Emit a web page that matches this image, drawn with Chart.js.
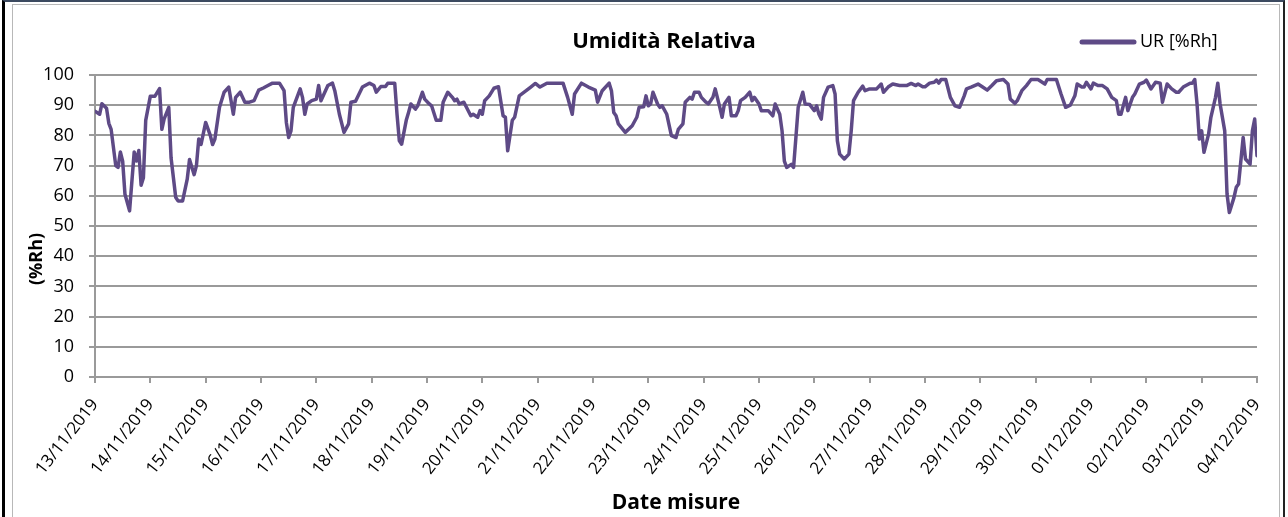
<!DOCTYPE html>
<html lang="it">
<head>
<meta charset="utf-8">
<title>Umidità Relativa</title>
<script src="https://cdn.jsdelivr.net/npm/chart.js@4.4.1/dist/chart.umd.min.js"></script>
<style>
html,body{margin:0;padding:0;background:#fff}
#wrap{position:relative;width:1288px;height:517px;overflow:hidden}
#c{position:absolute;left:0;top:0}
.cornice{position:absolute;left:2px;top:0;right:3px;bottom:-5px;border-left:3px solid #000;border-top:2px solid #3c4a60;border-right:2px solid #222;pointer-events:none}
.interno{position:absolute;left:12px;top:4px;right:8px;bottom:-5px;border:1px solid #b8b8b8;pointer-events:none}
</style>
</head>
<body>
<div id="wrap">
  <canvas id="c" width="1288" height="517"></canvas>
  <div class="interno"></div>
  <div class="cornice"></div>
</div>
<script>
// ===================== DATI =====================
const titolo='Umidità Relativa';
const nomeSerie='UR [%Rh]';
const titoloY='(%Rh)';
const titoloX='Date misure';
const etichetteDate=['13/11/2019','14/11/2019','15/11/2019','16/11/2019','17/11/2019','18/11/2019','19/11/2019','20/11/2019','21/11/2019','22/11/2019','23/11/2019','24/11/2019','25/11/2019','26/11/2019','27/11/2019','28/11/2019','29/11/2019','30/11/2019','01/12/2019','02/12/2019','03/12/2019','04/12/2019'];
const tickY=[0,10,20,30,40,50,60,70,80,90,100];

// ore trascorse dal 13/11/2019 00:00
const ore=[0,2,3,5,6,7,9,10,11,12,13,15,17,18,19,20,21,22,24,26,28,29,30,32,33,35,36,38,40,41,43,44,45,46,48,50,51,52,54,56,58,60,61,63,65,67,69,71,73,75,77,80,82,83,84,
  85,86,89,90,91,92,94,96,97,98,101,103,104,106,108,110,111,113,116,119,121,122,124,126,127,130,131,132,133,135,136,137,139,140,142,143,145,146,148,150,151,153,155,156,157,158,160,163,164,166,167,
  168,169,171,173,175,177,178,179,181,182,184,187,189,191,193,196,203,205,207,208,211,214,217,218,220,223,224,225,226,227,230,233,235,236,238,239,240,241,242,244,245,246,248,250,252,
  253,255,256,258,259,260,262,263,265,266,268,269,271,272,273,275,276,278,279,280,282,284,285,286,288,289,292,294,295,297,298,299,300,302,303,304,305,307,308,310,312,313,314,315,316,318,320,321,322,323,325,327,328,329,331,333,334,
  336,339,341,342,344,346,349,352,354,356,357,359,360,362,364,365,366,367,369,371,373,375,377,378,380,383,385,387,389,391,394,396,397,399,400,402,404,406,409,412,413,417,419,421,
  423,425,426,428,429,430,432,433,435,437,439,441,443,444,445,447,448,450,451,453,455,456,458,460,462,463,465,467,469,470,472,475,476,477,478,479,480,481,483,484,486,487,488,490,491,492,494,495,496,498,499,501,502,503,504];
const ur=[88,87,90.5,89,84,82,70,69.4,74.5,71.5,60.5,55,74.5,71.5,75,63.5,66,85,93,93,95.5,82,85.5,89.3,72.5,59.5,58.3,58.3,65.5,72,67,70,78.8,77,84.3,80,77,78.8,89.3,94.3,96,87,92.6,94.3,91,91,91.5,95,95.7,96.5,97.3,97.3,94.8,84.3,79.3,
  81.5,89.3,95.4,92.6,87,90.4,91.5,92,96.5,91.5,96.5,97.3,94.8,87,81,83.8,91,91.3,96,97.3,96.5,94.3,96.2,96.2,97.3,97.3,87,78.2,77.1,85,87.6,90.4,88.7,89.8,94.3,92,90.4,89.8,85,85,91,94.3,92.6,91.5,92,90.4,91,86.5,87,86,88.2,
  87,91.5,93.1,95.6,96.1,86.5,86,74.9,85,86,93.1,94.8,96,97.2,96,97.3,97.3,92.6,87,93.7,97.3,96,95,91,94.8,97.3,94.8,87.6,86.5,83.8,81,83.2,86,89.3,89.5,93.1,89.8,90.4,94.3,90.4,89.3,89.8,87,79.9,79.3,
  82,83.8,91,92.6,92,94.3,94.3,92.6,91,90.4,92.6,95.4,89.3,86,90.4,92.6,86.5,86.5,88.2,91.5,92.6,94.3,91.5,92.6,90.4,88.2,88.2,86.5,90.4,87,81.5,71.5,69.4,70.4,69.4,79.3,89.3,94.3,90.4,90.2,88.2,89.8,87,85.4,92.6,96,96.5,93.7,78.2,73.8,72.2,73.8,81.5,91.5,94.3,96.3,94.8,
  95.4,95.4,97,94.3,96,97,96.5,96.5,97.2,96.5,97,96.1,96.1,97.3,97.6,98.3,97.3,98.5,98.5,92.6,89.8,89.3,93.1,95.4,96,97,96,95,96.5,98.1,98.5,97,92,90.6,91.5,94.8,96.5,98.5,98.5,97,98.5,98.5,93.7,89.3,
  90,93.1,97,96,96,97.6,95.4,97.3,96.5,96.5,95.4,92.6,91.5,87,87,92.6,88.2,92.6,93.7,97,97.6,98.3,95.4,97.6,97.3,91,97,95.4,94.3,94.3,96,97.3,97.3,98.5,90.4,78.8,81.5,74.4,80.4,86,92.6,97.3,90.4,81.5,60.6,54.5,59.4,62.8,63.9,79.3,72.2,70.5,81.5,85.4,73.3];

const colSerie='#5e4a86', colGriglia='#9a9a9a';

// ===================== GRAFICO =====================
Chart.defaults.font.family='"Open Sans", sans-serif';
Chart.defaults.color='#000';

// titolo, legenda e titolo asse Y disegnati a mano (stessa riga / stessa posizione del foglio originale)
const testiExtra={id:'testiExtra',afterDraw(chart){
  const ctx=chart.ctx, a=chart.chartArea;
  ctx.save();
  ctx.fillStyle='#000';ctx.textBaseline='middle';
  ctx.font='bold 22px "Open Sans"';ctx.textAlign='center';
  ctx.fillText(titolo,(a.left+a.right)/2-12,42);
  const lx=a.right-175;
  ctx.strokeStyle=colSerie;ctx.lineWidth=5;ctx.lineCap='round';
  ctx.beginPath();ctx.moveTo(lx,42);ctx.lineTo(lx+52,42);ctx.stroke();
  ctx.font='18px "Open Sans"';ctx.textAlign='left';
  ctx.fillText(nomeSerie,lx+58,42);
  ctx.translate(37,(a.top+a.bottom)/2+33);ctx.rotate(-Math.PI/2);
  ctx.font='bold 18px "Open Sans"';ctx.textAlign='center';
  ctx.fillText(titoloY,0,0);
  ctx.restore();
}};

new Chart(document.getElementById('c'),{
  type:'line',
  data:{datasets:[{label:nomeSerie,data:ore.map((h,i)=>({x:h,y:ur[i]})),
    borderColor:colSerie,backgroundColor:colSerie,borderWidth:3.5,pointRadius:0,tension:0,
    borderJoinStyle:'round',borderCapStyle:'round'}]},
  options:{responsive:false,animation:false,
    layout:{padding:{top:75,left:20,right:31,bottom:0}},
    plugins:{legend:{display:false},title:{display:false},tooltip:{enabled:false}},
    scales:{
      x:{type:'linear',min:0,max:(etichetteDate.length-1)*24,
        afterBuildTicks:s=>{s.ticks=etichetteDate.map((_,i)=>({value:i*24}));},
        afterFit:s=>{s.height=140;},
        ticks:{autoSkip:false,maxRotation:52,minRotation:52,padding:12,font:{size:17},
          callback:v=>etichetteDate[Math.round(v/24)]||''},
        grid:{drawOnChartArea:false,color:colGriglia,lineWidth:2,tickLength:6},
        border:{color:colGriglia,width:2},
        title:{display:true,text:titoloX,font:{size:21,weight:'bold'},padding:{top:0,bottom:1}}},
      y:{min:0,max:100,
        afterBuildTicks:s=>{s.ticks=tickY.map(v=>({value:v}));},
        afterFit:s=>{s.width=75;},
        ticks:{padding:15,font:{size:18}},
        grid:{color:colGriglia,lineWidth:2,tickLength:6},
        border:{color:colGriglia,width:2}}
    }
  },
  plugins:[testiExtra]
});
</script>
</body>
</html>
